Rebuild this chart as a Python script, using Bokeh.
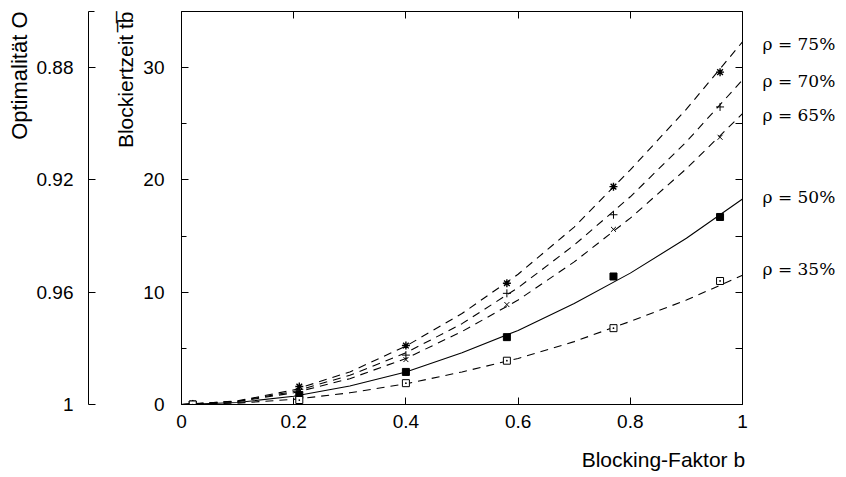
from bokeh.plotting import figure
from bokeh.models import Range1d, LinearAxis, FixedTicker, Title
from bokeh.layouts import row
from bokeh.embed import file_html
from bokeh.resources import INLINE

# ---- data ----
b_meas = [0.02, 0.21, 0.40, 0.58, 0.77, 0.96]
t75 = [0.05, 1.6, 5.25, 10.8, 19.4, 29.6]
t70 = [0.05, 1.35, 4.4, 9.9, 16.9, 26.5]
t65 = [0.05, 1.15, 4.0, 8.9, 15.6, 23.8]
t50 = [0.0, 0.85, 2.9, 6.0, 11.4, 16.7]
t35 = [0.0, 0.4, 1.9, 3.9, 6.8, 11.0]

b_curve = [0.0, 0.1, 0.2, 0.3, 0.4, 0.5, 0.6, 0.7, 0.8, 0.9, 1.0]
c75 = [0.0, 0.32, 1.3, 2.9, 5.2, 8.1, 11.6, 15.8, 20.9, 26.3, 32.3]
c70 = [0.0, 0.29, 1.16, 2.6, 4.6, 7.2, 10.4, 14.2, 18.5, 23.4, 28.9]
c65 = [0.0, 0.26, 1.04, 2.3, 4.1, 6.5, 9.3, 12.7, 16.6, 21.0, 25.9]
c50 = [0.0, 0.18, 0.73, 1.65, 2.9, 4.6, 6.6, 9.0, 11.7, 14.8, 18.3]
c35 = [0.0, 0.12, 0.46, 1.04, 1.84, 2.9, 4.1, 5.6, 7.4, 9.3, 11.5]

rho_names = ["ρ = 75%", "ρ = 70%", "ρ = 65%", "ρ = 50%", "ρ = 35%"]
rho_label_at = [32.15, 28.85, 25.8, 18.45, 12.1]     # where each rho text sits (t units)

t_ticks = [0, 10, 20, 30]
t_minor = [5, 15, 25]
t_side_ticks = [5, 10, 15, 20, 25, 30]
opt_ticks = [0, 10, 20, 30]
opt_labels = {0: "1", 10: "0.96", 20: "0.92", 30: "0.88"}
b_ticks = [0, 0.2, 0.4, 0.6, 0.8, 1]
b_top_ticks = [0.2, 0.4, 0.6, 0.8]
b_labels = {0: "0", 0.2: "0.2", 0.4: "0.4", 0.6: "0.6", 0.8: "0.8", 1: "1"}
xlabel_at = 0.859
xlabel_text = "Blocking-Faktor b"
ylabel_t = "Blockiertzeit t\u0305b\u0305"
ylabel_o = "Optimalität O"

SANS = "Liberation Sans"
TICK_FS = "19px"

H = 477
TOP, BOT = 11, 73


def style_axis(ax, ticks, minor, standoff, font=SANS, size=TICK_FS):
    ax.ticker = FixedTicker(ticks=ticks, minor_ticks=minor)
    ax.major_tick_in = 7
    ax.major_tick_out = 0
    ax.minor_tick_in = 5
    ax.minor_tick_out = 0
    ax.axis_line_color = "black"
    ax.major_tick_line_color = "black"
    ax.minor_tick_line_color = "black"
    ax.major_label_standoff = standoff
    ax.major_label_text_font = font
    ax.major_label_text_font_size = size
    ax.major_label_text_color = "black"


def text_axis(ax, ticks, labels, standoff, font, size):
    style_axis(ax, ticks, [], standoff, font, size)
    ax.major_label_overrides = labels
    ax.major_tick_in = 0
    ax.axis_line_color = None
    ax.major_tick_line_color = None


# ---- Optimalität axis ----
pA = figure(width=108, height=H, x_range=Range1d(0, 1), y_range=Range1d(0, 35),
            x_axis_location=None, y_axis_location="left", toolbar_location=None,
            output_backend="svg", min_border_left=88, min_border_right=0,
            min_border_top=TOP, min_border_bottom=BOT)
pA.outline_line_color = None
pA.grid.visible = False
pA.background_fill_color = "white"
pA.border_fill_color = "white"
axA = pA.yaxis[0]
style_axis(axA, opt_ticks, [35], 15)
axA.minor_tick_in = 6
axA.major_label_overrides = opt_labels
pA.add_layout(Title(text=ylabel_o, align="right", vertical_align="bottom", standoff=3,
                    offset=0, text_font=SANS, text_font_size="22px",
                    text_font_style="normal", text_color="black"), "left")

# ---- main figure ----
pB = figure(width=738, height=H, x_range=Range1d(0, 1), y_range=Range1d(0, 35),
            x_axis_location="below", y_axis_location="left", toolbar_location=None,
            output_backend="svg", min_border_left=72, min_border_right=104,
            min_border_top=TOP, min_border_bottom=BOT)
pB.grid.visible = False
pB.outline_line_color = "black"
pB.outline_line_width = 1
pB.outline_line_alpha = 1
pB.background_fill_color = "white"
pB.border_fill_color = "white"

style_axis(pB.yaxis[0], t_ticks, t_minor, 17)
style_axis(pB.xaxis[0], b_ticks, [], 10)
pB.xaxis[0].major_label_overrides = b_labels

# right and top axes: tick marks only (drawn as minor ticks, so no labels)
ax_r = LinearAxis()
style_axis(ax_r, [], t_side_ticks, 0)
ax_r.minor_tick_in = 7
pB.add_layout(ax_r, "right")
ax_t = LinearAxis()
style_axis(ax_t, [], b_top_ticks, 0)
ax_t.minor_tick_in = 7
pB.add_layout(ax_t, "above")

# rho texts at the right-hand ends of the curves
ax_rho = LinearAxis()
text_axis(ax_rho, rho_label_at, dict(zip(rho_label_at, rho_names)), 20, "DejaVu Serif", "17px")
pB.add_layout(ax_rho, "right")

# x axis title, right-aligned under the frame
ax_xl = LinearAxis()
text_axis(ax_xl, [xlabel_at], {xlabel_at: xlabel_text}, 17, SANS, "21px")
pB.add_layout(ax_xl, "below")

# y axis title
pB.add_layout(Title(text=ylabel_t, align="right", vertical_align="bottom", standoff=7,
                    offset=0, text_font=SANS, text_font_size="21px",
                    text_font_style="normal", text_color="black"), "left")

DASH = "8 6"
pB.line(b_curve, c75, line_color="black", line_width=1.1, line_dash=DASH)
pB.line(b_curve, c70, line_color="black", line_width=1.1, line_dash=DASH)
pB.line(b_curve, c65, line_color="black", line_width=1.1, line_dash=DASH)
pB.line(b_curve, c50, line_color="black", line_width=1.1)
pB.line(b_curve, c35, line_color="black", line_width=1.1, line_dash=DASH)

pB.scatter(b_meas, t75, marker="asterisk", size=8, line_color="black", line_width=1.4)
pB.scatter(b_meas, t70, marker="cross", size=8, line_color="black", line_width=1)
pB.scatter(b_meas, t65, marker="x", size=7, line_color="black", line_width=1)
pB.scatter(b_meas, t50, marker="square", size=7, line_color="black", fill_color="black")
pB.scatter(b_meas, t35, marker="square_dot", size=7, line_color="black", fill_color="white", line_width=1)

layout = row(pA, pB)
open("out.html", "w").write(file_html(layout, INLINE))
